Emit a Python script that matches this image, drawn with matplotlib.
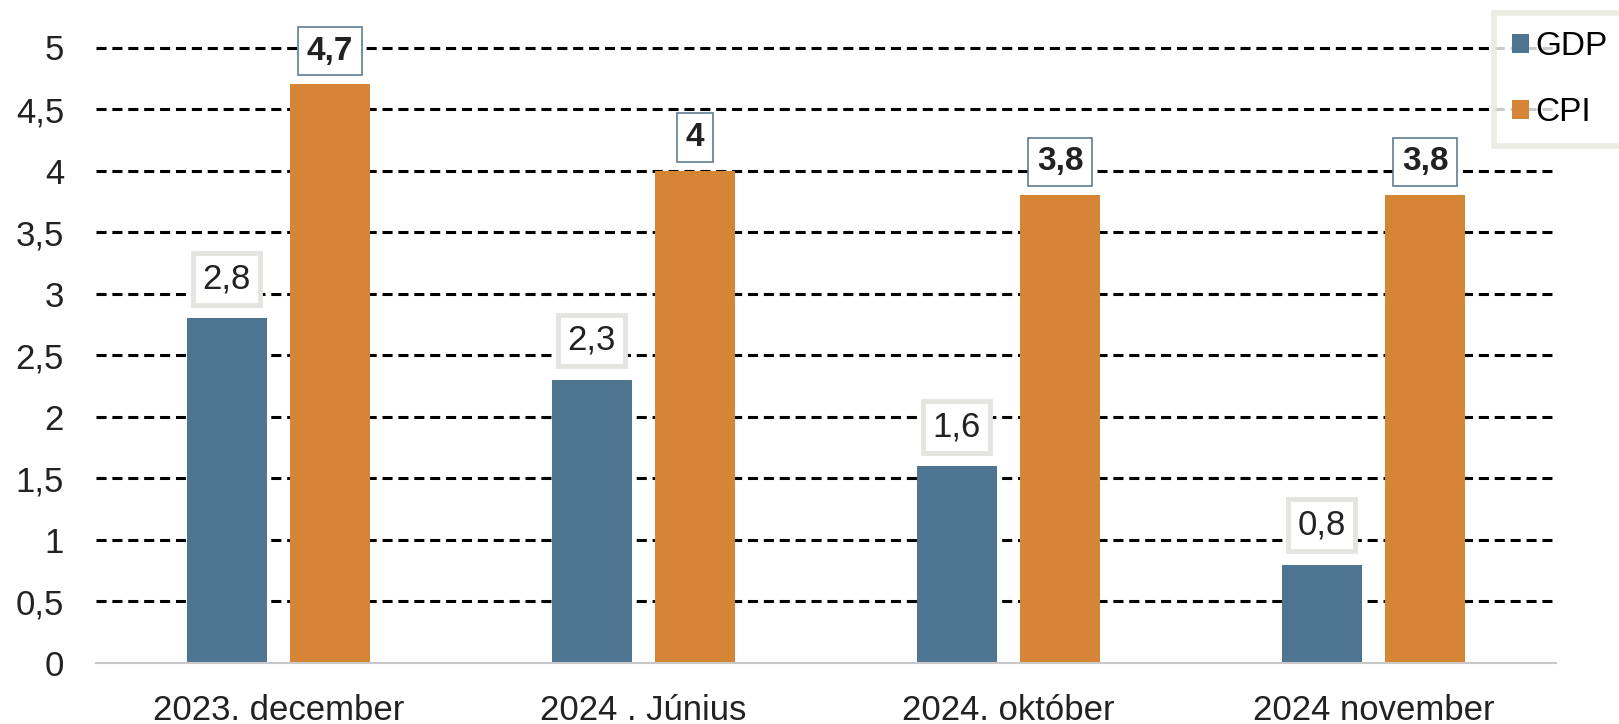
import numpy as np
import matplotlib.pyplot as plt

# data
categories = ["2023. december", "2024 . Június", "2024. október", "2024 november"]
gdp = [2.8, 2.3, 1.6, 0.8]
cpi = [4.7, 4.0, 3.8, 3.8]
gdp_labels = ["2,8", "2,3", "1,6", "0,8"]
cpi_labels = ["4,7", "4", "3,8", "3,8"]
yticks = [0, 0.5, 1, 1.5, 2, 2.5, 3, 3.5, 4, 4.5, 5]
ytick_labels = ["0", "0,5", "1", "1,5", "2", "2,5", "3", "3,5", "4", "4,5", "5"]

plt.rcParams["font.family"] = ["Liberation Sans", "DejaVu Sans"]

gdp_color = "#4d7592"
cpi_color = "#d68536"

fig = plt.figure(figsize=(16.19, 7.24), dpi=100)
# y=0 at 663 px, y=5 at 47.5 px (from top); top limit a little above 5
ymax = 5.04
unit = (663 - 47.5) / 5 / 724
ax = fig.add_axes([0.0593, 1 - 663 / 724, 0.9017, unit * ymax])

x = np.arange(len(categories))
w = 0.22
off = 0.1415
ax.bar(x - off, gdp, width=w, color=gdp_color, label="GDP", zorder=2)
ax.bar(x + off, cpi, width=w, color=cpi_color, label="CPI", zorder=2)

ax.set_xlim(-0.5, len(categories) - 0.5)
ax.set_ylim(0, ymax)
ax.set_yticks(yticks)
ax.set_yticklabels(ytick_labels)
ax.set_xticks(x)
ax.set_xticklabels(categories)
ax.tick_params(axis="both", length=0, labelsize=25, colors="#222222")
ax.tick_params(axis="y", pad=23)
ax.tick_params(axis="x", pad=22)

ax.set_axisbelow(True)
ax.yaxis.grid(True, color="black", linewidth=2.2, linestyle=(0, (3.3, 1.9)))
ax.get_ygridlines()[0].set_visible(False)
for s in ["top", "right", "left"]:
    ax.spines[s].set_visible(False)
ax.spines["bottom"].set_color("#c8c8c8")
ax.spines["bottom"].set_linewidth(1.5)
ax.spines["bottom"].set_zorder(3)

# data labels
for i in range(len(categories)):
    ax.text(x[i] - off, gdp[i] + 0.32, gdp_labels[i], ha="center", va="center",
            fontsize=25, color="#222222", zorder=4,
            bbox=dict(boxstyle="square,pad=0.27", fc="white", ec="#e4e4e0", lw=3.5))
    ax.text(x[i] + off, cpi[i] + 0.27, cpi_labels[i], ha="center", va="center",
            fontsize=24, fontweight="bold", color="#222222", zorder=4,
            bbox=dict(boxstyle="square,pad=0.26", fc="white", ec="#5d7d92", lw=1.2))

leg = fig.legend(loc="upper left", bbox_to_anchor=(0.9225, 0.982), fontsize=24,
                 handlelength=0.5, handleheight=0.5, handletextpad=0.2,
                 labelspacing=1.04, borderpad=0.55, borderaxespad=0.0,
                 fancybox=False, frameon=True)
leg.get_frame().set_edgecolor("#e6e6dc")
leg.get_frame().set_linewidth(4)

fig.savefig("out.png", dpi=100)
